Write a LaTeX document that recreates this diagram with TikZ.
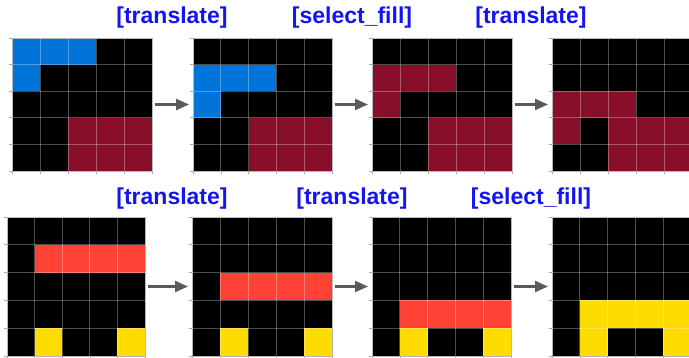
\documentclass[tikz,border=0pt]{standalone}
\usepackage{fontspec}
\setmainfont{Liberation Sans}
\usetikzlibrary{arrows.meta}
\definecolor{K}{HTML}{000000}
\definecolor{B}{HTML}{0074D9}
\definecolor{M}{HTML}{870F29}
\definecolor{R}{HTML}{FF4136}
\definecolor{Y}{HTML}{FFDC00}
\definecolor{arrowgray}{HTML}{5A5A5A}
\definecolor{labelblue}{HTML}{1414F0}
\tikzset{
  gridnode/.style={inner sep=0pt, outer sep=0pt},
  gridline/.style={white, opacity=0.3, line width=0.8pt},
  gridborder/.style={gray!55, line width=0.8pt},
  tickmark/.style={gray!70, line width=0.6pt},
  flowarrow/.style={arrowgray, line width=2.3pt, -{Triangle[length=13pt,width=11pt]}, shorten <=2.5pt, shorten >=4pt},
  oplabel/.style={labelblue, font=\bfseries\fontsize{23}{23}\selectfont, inner sep=0pt}
}
% #1 name, #2 x0, #3 y0, #4 x1, #5 y1, #6 rows
\newcommand{\drawgrid}[6]{%
  \pgfmathsetmacro\gcw{(#4-#2)/5}%
  \pgfmathsetmacro\gch{(#5-#3)/5}%
  \node[gridnode, minimum width={(#4-#2)*1pt}, minimum height={(#5-#3)*1pt}] (#1) at ({(#2+#4)/2},{-(#3+#5)/2}) {};
  \foreach \rowspec [count=\ri from 0] in {#6} {
    \foreach \cc [count=\ci from 0] in \rowspec {
      \fill[\cc] ({#2+\ci*\gcw},{-(#3+\ri*\gch)}) rectangle ({#2+(\ci+1)*\gcw},{-(#3+(\ri+1)*\gch)});
    }
  }
  \foreach \i in {1,...,4} {
    \draw[gridline] ({#2+\i*\gcw},{-#3}) -- ({#2+\i*\gcw},{-#5});
    \draw[gridline] ({#2},{-(#3+\i*\gch)}) -- ({#4},{-(#3+\i*\gch)});
  }
  \foreach \i in {0,...,5} {
    \draw[tickmark] ({#2-3},{-(#3+\i*\gch)}) -- ({#2},{-(#3+\i*\gch)});
    \draw[tickmark] ({#2+\i*\gcw},{-#5}) -- ({#2+\i*\gcw},{-#5-3});
  }
  \draw[gridborder] (#2,-#3) rectangle (#4,-#5);
}
\begin{document}
\begin{tikzpicture}[x=1pt,y=1pt]
\useasboundingbox (0,0) rectangle (689,-358);
\clip (0,0) rectangle (689,-358);
% top row
\drawgrid{a1}{12}{38}{152}{171}{{B,B,B,K,K},{B,K,K,K,K},{K,K,K,K,K},{K,K,M,M,M},{K,K,M,M,M}}
\drawgrid{a2}{193}{38}{332}{171}{{K,K,K,K,K},{B,B,B,K,K},{B,K,K,K,K},{K,K,M,M,M},{K,K,M,M,M}}
\drawgrid{a3}{372}{38}{512}{171}{{K,K,K,K,K},{M,M,M,K,K},{M,K,K,K,K},{K,K,M,M,M},{K,K,M,M,M}}
\drawgrid{a4}{552}{38}{692}{171}{{K,K,K,K,K},{K,K,K,K,K},{M,M,M,K,K},{M,K,M,M,M},{K,K,M,M,M}}
% bottom row
\drawgrid{b1}{7}{217}{145}{356}{{K,K,K,K,K},{K,R,R,R,R},{K,K,K,K,K},{K,K,K,K,K},{K,Y,K,K,Y}}
\drawgrid{b2}{192}{217}{332}{356}{{K,K,K,K,K},{K,K,K,K,K},{K,R,R,R,R},{K,K,K,K,K},{K,Y,K,K,Y}}
\drawgrid{b3}{372}{217}{511}{356}{{K,K,K,K,K},{K,K,K,K,K},{K,K,K,K,K},{K,R,R,R,R},{K,Y,K,K,Y}}
\drawgrid{b4}{552}{217}{691}{356}{{K,K,K,K,K},{K,K,K,K,K},{K,K,K,K,K},{K,Y,Y,Y,Y},{K,Y,K,K,Y}}
% arrows
\draw[flowarrow] (a1) -- (a2);
\draw[flowarrow] (a2) -- (a3);
\draw[flowarrow] (a3) -- (a4);
\draw[flowarrow] (b1) -- (b2);
\draw[flowarrow] (b2) -- (b3);
\draw[flowarrow] (b3) -- (b4);
% labels
\node[oplabel] (la1) at (172,-18) {[translate]};
\node[oplabel] (la2) at (352,-18) {[select\_fill]};
\node[oplabel] (la3) at (531,-18) {[translate]};
\node[oplabel] (lb1) at (172,-199) {[translate]};
\node[oplabel] (lb2) at (352,-199) {[translate]};
\node[oplabel] (lb3) at (531,-199) {[select\_fill]};
\end{tikzpicture}
\end{document}
